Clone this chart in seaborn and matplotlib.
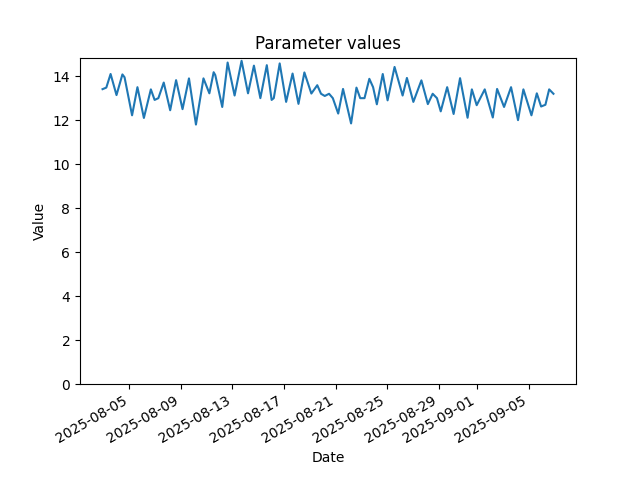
import matplotlib
matplotlib.use("Agg")
import matplotlib.pyplot as plt
import seaborn as sns
import pandas as pd

hours = [0, 7, 15, 26, 37, 41, 55, 65, 77, 90, 97, 104, 114, 126, 137, 149,
         161, 174, 188, 199, 207, 210, 223, 233, 246, 259, 271, 282, 294, 306,
         315, 319, 330, 342, 354, 365, 376, 389, 400, 407, 414, 422, 429, 439,
         448, 463, 473, 480, 488, 497, 504, 511, 522, 531, 544, 559, 567, 579,
         594, 606, 615, 623, 630, 642, 654, 666, 680, 688, 697, 712, 727, 735,
         748, 761, 774, 784, 799, 809, 817, 825, 832, 840]
values = [13.41, 13.48, 14.1, 13.14, 14.08, 13.95, 12.22, 13.5, 12.1, 13.4,
          12.92, 13.0, 13.71, 12.45, 13.82, 12.5, 13.9, 11.8, 13.9, 13.22,
          14.18, 14.05, 12.6, 14.62, 13.12, 14.7, 13.22, 14.48, 13.0, 14.5,
          12.92, 13.0, 14.58, 12.83, 14.12, 12.74, 14.17, 13.21, 13.59, 13.2,
          13.1, 13.2, 13.0, 12.3, 13.42, 11.85, 13.48, 13.0, 13.0, 13.88,
          13.5, 12.72, 14.1, 12.9, 14.42, 13.12, 13.92, 12.83, 13.81, 12.73,
          13.2, 13.0, 12.4, 13.5, 12.28, 13.91, 12.11, 13.4, 12.68, 13.4,
          12.12, 13.42, 12.6, 13.5, 12.0, 13.4, 12.22, 13.22, 12.62, 12.7,
          13.4, 13.2]

start = pd.Timestamp("2025-08-02 22:00")
df = pd.DataFrame({
    "Date": start + pd.to_timedelta(hours, unit="h"),
    "Value": values,
})

fig, ax = plt.subplots(figsize=(6.4, 4.8), dpi=100)
sns.lineplot(data=df, x="Date", y="Value", ax=ax, color="#1f77b4", linewidth=1.5)
ax.set_ylim(bottom=0)
ax.set_title("Parameter values")
ax.set_xlabel("Date")
ax.set_ylabel("Value")
fig.autofmt_xdate()
fig.savefig("out.png")
plt.close(fig)
